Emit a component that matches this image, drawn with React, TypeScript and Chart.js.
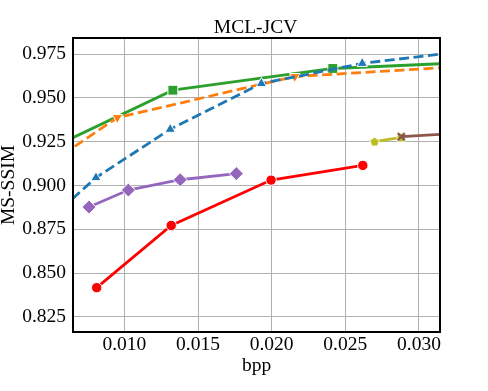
import React, { useEffect, useRef } from "react";
import { Chart, registerables } from "chart.js";

Chart.register(...registerables);

const titleText = "MCL-JCV";
const xTitle = "bpp";
const yTitle = "MS-SSIM";
const xTicks = [0.01, 0.015, 0.02, 0.025, 0.03];
const yTicks = [0.825, 0.85, 0.875, 0.9, 0.925, 0.95, 0.975];
const xRange = [0.00651, 0.03143];
const yRange = [0.8164, 0.9842];

const blueX = [0.005, 0.00807, 0.01311, 0.0193, 0.02615, 0.036];
const blueY = [0.8812, 0.9045, 0.9321, 0.9582, 0.9697, 0.9796];
const orangeX = [0.005, 0.00952, 0.02157, 0.036];
const orangeY = [0.913, 0.9388, 0.9622, 0.9695];
const greenX = [0.005, 0.01329, 0.02415, 0.036];
const greenY = [0.9213, 0.9544, 0.9668, 0.9712];
const redX = [0.00812, 0.01318, 0.01996, 0.02619];
const redY = [0.8417, 0.8772, 0.9031, 0.9115];
const purpleX = [0.0076, 0.01027, 0.01379, 0.0176];
const purpleY = [0.8877, 0.8974, 0.9033, 0.9068];
const oliveX = [0.02699, 0.0288];
const oliveY = [0.9251, 0.9275];
const brownX = [0.0288, 0.036];
const brownY = [0.9279, 0.9314];

const FONT = "'Liberation Serif', 'Times New Roman', serif";

function pts(xs: number[], ys: number[]) {
  return xs.map((x, i) => ({ x, y: ys[i] }));
}

function makePentagon(color: string) {
  const c = document.createElement("canvas");
  c.width = 13;
  c.height = 13;
  const ctx = c.getContext("2d")!;
  ctx.beginPath();
  for (let i = 0; i < 5; i++) {
    const a = -Math.PI / 2 + (i * 2 * Math.PI) / 5;
    const px = 6.5 + 5 * Math.cos(a);
    const py = 7 + 5 * Math.sin(a);
    if (i === 0) ctx.moveTo(px, py);
    else ctx.lineTo(px, py);
  }
  ctx.closePath();
  ctx.fillStyle = color;
  ctx.fill();
  ctx.strokeStyle = "#ffffff";
  ctx.lineWidth = 1;
  ctx.stroke();
  return c;
}

export default function App() {
  const ref = useRef<HTMLCanvasElement>(null);
  useEffect(() => {
    const canvas = ref.current!;
    const frame = {
      id: "frame",
      afterDatasetsDraw(chart: any) {
        const { ctx, chartArea } = chart;
        ctx.save();
        ctx.strokeStyle = "#000";
        ctx.lineWidth = 2;
        ctx.strokeRect(chartArea.left, chartArea.top, chartArea.right - chartArea.left, chartArea.bottom - chartArea.top);
        ctx.restore();
      },
      afterDraw(chart: any) {
        const { ctx, chartArea } = chart;
        ctx.save();
        ctx.fillStyle = "#000";
        ctx.font = `19.5px ${FONT}`;
        ctx.textAlign = "center";
        ctx.textBaseline = "alphabetic";
        ctx.fillText(titleText, (chartArea.left + chartArea.right) / 2 - 1, 32.7);
        ctx.restore();
      },
    };
    const common = { pointBorderColor: "#ffffff", pointBorderWidth: 1, borderWidth: 2.8, fill: false };
    const chart = new Chart(canvas, {
      type: "line",
      data: {
        datasets: [
          {
            ...common,
            data: pts(blueX, blueY),
            borderColor: "#1f77b4",
            backgroundColor: "#1f77b4",
            pointBackgroundColor: "#1f77b4",
            borderDash: [10, 4.5],
            pointStyle: "triangle",
            pointRadius: 6,
            order: 0,
          },
          {
            ...common,
            data: pts(orangeX, orangeY),
            borderColor: "#ff7f0e",
            backgroundColor: "#ff7f0e",
            pointBackgroundColor: "#ff7f0e",
            borderDash: [10, 4.5],
            pointStyle: "triangle",
            pointRotation: 180,
            pointRadius: 6,
            order: 1,
          },
          {
            ...common,
            data: pts(greenX, greenY),
            borderColor: "#2ca02c",
            backgroundColor: "#2ca02c",
            pointBackgroundColor: "#2ca02c",
            pointStyle: "rect",
            pointRadius: 7,
            order: 2,
          },
          {
            ...common,
            data: pts(redX, redY),
            borderColor: "#ff0000",
            backgroundColor: "#ff0000",
            pointBackgroundColor: "#ff0000",
            pointStyle: "circle",
            pointRadius: 5.2,
            order: 3,
          },
          {
            ...common,
            data: pts(purpleX, purpleY),
            borderColor: "#9467bd",
            backgroundColor: "#9467bd",
            pointBackgroundColor: "#9467bd",
            pointStyle: "rectRot",
            pointRadius: 7,
            order: 4,
          },
          {
            ...common,
            data: pts(oliveX, oliveY),
            borderColor: "#bcbd22",
            backgroundColor: "#bcbd22",
            pointBackgroundColor: "#bcbd22",
            pointStyle: [makePentagon("#bcbd22"), makePentagon("#bcbd22")] as any,
            pointRadius: 5,
            order: 6,
          },
          {
            ...common,
            data: pts(brownX, brownY),
            borderColor: "#8c564b",
            backgroundColor: "#8c564b",
            pointBackgroundColor: "#8c564b",
            pointBorderColor: "#8c564b",
            pointBorderWidth: 2.2,
            pointStyle: "crossRot",
            pointRadius: 5,
            order: 5,
          },
        ],
      },
      options: {
        animation: false,
        responsive: false,
        devicePixelRatio: 1,
        layout: { padding: { left: 0, top: 38, right: 48, bottom: 0 } },
        plugins: { legend: { display: false }, tooltip: { enabled: false }, title: { display: false } },
        scales: {
          x: {
            type: "linear",
            min: xRange[0],
            max: xRange[1],
            afterBuildTicks: (s: any) => {
              s.ticks = xTicks.map((v) => ({ value: v }));
            },
            afterFit: (s: any) => {
              s.height = 59;
            },
            ticks: {
              color: "#000",
              font: { family: FONT, size: 19.5 },
              padding: 1,
              maxRotation: 0,
              autoSkip: false,
              callback: (v: any) => Number(v).toFixed(3),
            },
            grid: { color: "#b0b0b0", lineWidth: 1, drawTicks: false, tickLength: 0 },
            border: { display: false },
            title: {
              display: true,
              text: xTitle,
              color: "#000",
              font: { family: FONT, size: 19.5, lineHeight: 1 },
              padding: { top: 0, bottom: 15 },
            },
          },
          y: {
            type: "linear",
            min: yRange[0],
            max: yRange[1],
            afterBuildTicks: (s: any) => {
              s.ticks = yTicks.map((v) => ({ value: v }));
            },
            afterFit: (s: any) => {
              s.width = 73;
            },
            ticks: {
              color: "#000",
              font: { family: FONT, size: 19.5 },
              padding: 7,
              autoSkip: false,
              callback: (v: any) => Number(v).toFixed(3),
            },
            grid: { color: "#b0b0b0", lineWidth: 1, drawTicks: false, tickLength: 0 },
            border: { display: false },
            title: {
              display: true,
              text: yTitle,
              color: "#000",
              font: { family: FONT, size: 19.5, lineHeight: 1 },
              padding: { top: -1, bottom: 0 },
            },
          },
        },
      },
      plugins: [frame],
    } as any);
    return () => chart.destroy();
  }, []);
  return (
    <div style={{ position: "absolute", left: 0, top: 0, width: 488, height: 391, background: "#fff" }}>
      <canvas ref={ref} width={488} height={391} style={{ display: "block" }} />
    </div>
  );
}
